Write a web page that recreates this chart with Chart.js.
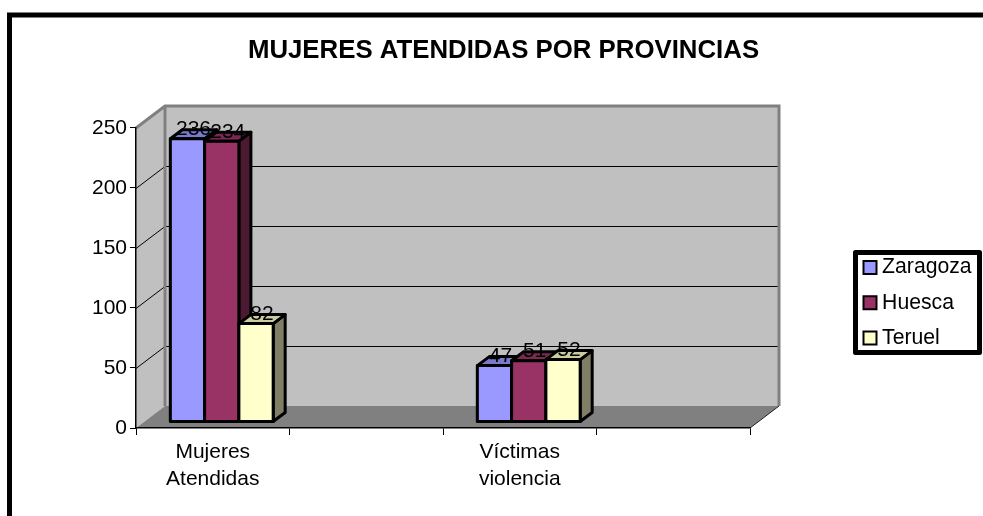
<!DOCTYPE html>
<html><head><meta charset="utf-8">
<style>html,body{margin:0;padding:0;background:#fff}canvas{display:block}</style>
<script src="https://cdn.jsdelivr.net/npm/chart.js@4"></script>
</head><body><canvas id="c" width="983" height="516"></canvas>
<script>
const categories = [['Mujeres','Atendidas'], '', ['Víctimas','violencia'], ''];
const zaragoza = [236, null, 47, null];
const huesca = [234, null, 51, null];
const teruel = [82, null, 52, null];
const seriesNames = ['Zaragoza','Huesca','Teruel'];
const frontColors = ['#9999FF','#993366','#FFFFCC'];
const topColors = ['#7A7ACC','#7A2952','#CCCCA3'];
const sideColors = ['#4C4C7F','#4C1933','#7F7F66'];
const FONT = '"Liberation Sans", Arial, sans-serif';
const wall = {dx:29, dy:-22};
const barOffset = {dx:9, dy:-6};
const depth = {dx:12, dy:-9};

const scene = {
  id:'scene',
  beforeDraw(chart){
    const {ctx, chartArea:a, scales:{y}} = chart;
    const L=a.left,R=a.right,T=a.top,B=a.bottom,dx=wall.dx,dy=wall.dy;
    ctx.save();
    ctx.fillStyle='#fff';ctx.fillRect(0,0,983,516);
    ctx.strokeStyle='#000';ctx.lineWidth=5;ctx.lineJoin='miter';
    ctx.strokeRect(9.5,15,1000,600);
    ctx.fillStyle='#C0C0C0';
    ctx.fillRect(L+dx,T+dy,R-L,B-T);
    ctx.beginPath();ctx.moveTo(L,T);ctx.lineTo(L+dx,T+dy);ctx.lineTo(L+dx,B+dy);ctx.lineTo(L,B);ctx.closePath();ctx.fill();
    ctx.fillStyle='#808080';
    ctx.beginPath();ctx.moveTo(L,B);ctx.lineTo(L+dx,B+dy);ctx.lineTo(R+dx,B+dy);ctx.lineTo(R,B);ctx.closePath();ctx.fill();
    ctx.strokeStyle='#000';ctx.lineWidth=1;
    y.ticks.forEach(t=>{
      if(t.value===0||t.value===250)return;
      const p=Math.round(y.getPixelForValue(t.value))+0.5;
      ctx.beginPath();ctx.moveTo(L,p);ctx.lineTo(L+dx,p+dy);ctx.lineTo(R+dx,p+dy);ctx.stroke();
    });
    ctx.strokeStyle='#808080';ctx.lineWidth=3;
    ctx.beginPath();ctx.moveTo(L,T);ctx.lineTo(L+dx,T+dy);ctx.lineTo(R+dx,T+dy);ctx.lineTo(R+dx,B+dy);ctx.stroke();
    ctx.beginPath();ctx.moveTo(L+dx,T+dy);ctx.lineTo(L+dx,B+dy);ctx.stroke();
    ctx.strokeStyle='#222';ctx.lineWidth=1;
    ctx.beginPath();ctx.moveTo(R,B);ctx.lineTo(R+dx,B+dy);ctx.stroke();
    ctx.fillStyle='#fff';ctx.strokeStyle='#000';ctx.lineWidth=5;ctx.lineJoin='round';
    ctx.fillRect(855.5,252.5,124,100);ctx.strokeRect(855.5,252.5,124,100);
    ctx.restore();
    const lg=chart.legend;
    lg.left=854.5;lg.top=243;lg.right=980;lg.bottom=480;lg.width=125.5;lg.height=237;
    chart.titleBlock.left=24;chart.titleBlock.right=983;
  },
  beforeDatasetsDraw(chart){
    const ctx=chart.ctx;
    ctx.save();
    ctx.translate(barOffset.dx,barOffset.dy);
    [0,1,2].forEach(i=>{
      const meta=chart.getDatasetMeta(i);
      meta.data.forEach((el,j)=>{
        if(chart.data.datasets[i].data[j]==null)return;
        const w=el.width,x0=el.x-w/2,x1=el.x+w/2,t=el.y,b=el.base,dx=depth.dx,dy=depth.dy;
        ctx.strokeStyle='#000';ctx.lineWidth=3;ctx.lineJoin='round';
        ctx.fillStyle=sideColors[i];
        ctx.beginPath();ctx.moveTo(x1,t);ctx.lineTo(x1+dx,t+dy);ctx.lineTo(x1+dx,b+dy);ctx.lineTo(x1,b);ctx.closePath();ctx.fill();ctx.stroke();
        ctx.fillStyle=topColors[i];
        ctx.beginPath();ctx.moveTo(x0,t);ctx.lineTo(x0+dx,t+dy);ctx.lineTo(x1+dx,t+dy);ctx.lineTo(x1,t);ctx.closePath();ctx.fill();ctx.stroke();
      });
      meta.controller.draw();
      meta.data.forEach((el,j)=>{
        if(chart.data.datasets[i].data[j]==null)return;
        ctx.strokeStyle='#000';ctx.lineWidth=3;ctx.lineJoin='round';
        ctx.strokeRect(el.x-el.width/2,el.y,el.width,el.base-el.y);
      });
    });
    ctx.fillStyle='#000';ctx.font='21px '+FONT;ctx.textAlign='center';ctx.textBaseline='alphabetic';
    [0,1,2].forEach(i=>{
      chart.getDatasetMeta(i).data.forEach((el,j)=>{
        const v=chart.data.datasets[i].data[j];
        if(v==null)return;
        ctx.fillText(String(v),el.x+depth.dx/2,el.y-3.5);
      });
    });
    ctx.restore();
    return false;
  }
};

new Chart(document.getElementById('c'),{
  type:'bar',
  data:{labels:categories,datasets:[zaragoza,huesca,teruel].map((d,i)=>({
    label:seriesNames[i],data:d,backgroundColor:frontColors[i],borderColor:'#000',borderWidth:1,borderSkipped:false
  }))},
  options:{
    responsive:false,animation:false,
    layout:{padding:{left:0,right:233,top:0,bottom:0}},
    datasets:{bar:{barPercentage:1,categoryPercentage:0.67}},
    plugins:{
      tooltip:{enabled:false},
      title:{display:true,text:'MUJERES ATENDIDAS POR PROVINCIAS',color:'#000',
        font:{family:FONT,size:25.8,weight:'bold',lineHeight:1.2},padding:{top:35,bottom:62}},
      legend:{display:true,position:'chartArea',align:'start',
        labels:{usePointStyle:true,pointStyle:'rect',boxWidth:3,boxHeight:13,padding:14,color:'#000',
          font:{family:FONT,size:21.2,lineHeight:1.2},
          generateLabels(chart){return chart.data.datasets.map((d,i)=>({
            text:d.label,fillStyle:d.backgroundColor,strokeStyle:'#000',lineWidth:2,pointStyle:'rect',datasetIndex:i,hidden:false}));}}}
    },
    scales:{
      x:{
        afterFit(s){s.height=88;},
        grid:{display:true,drawOnChartArea:false,drawTicks:true,tickLength:7,color:'#000',lineWidth:1,offset:true},
        border:{display:true,color:'#000',width:1.5},
        ticks:{autoSkip:false,maxRotation:0,minRotation:0,padding:4,color:'#000',font:{family:FONT,size:21,lineHeight:1.27}}
      },
      y:{
        min:0,max:250,
        afterFit(s){s.width=136;},
        grid:{display:true,drawOnChartArea:false,drawTicks:true,tickLength:6,color:'#000',lineWidth:1},
        border:{display:true,color:'#000',width:1.5},
        ticks:{stepSize:50,padding:3,color:'#000',font:{family:FONT,size:21}}
      }
    }
  },
  plugins:[scene]
});
</script></body></html>
